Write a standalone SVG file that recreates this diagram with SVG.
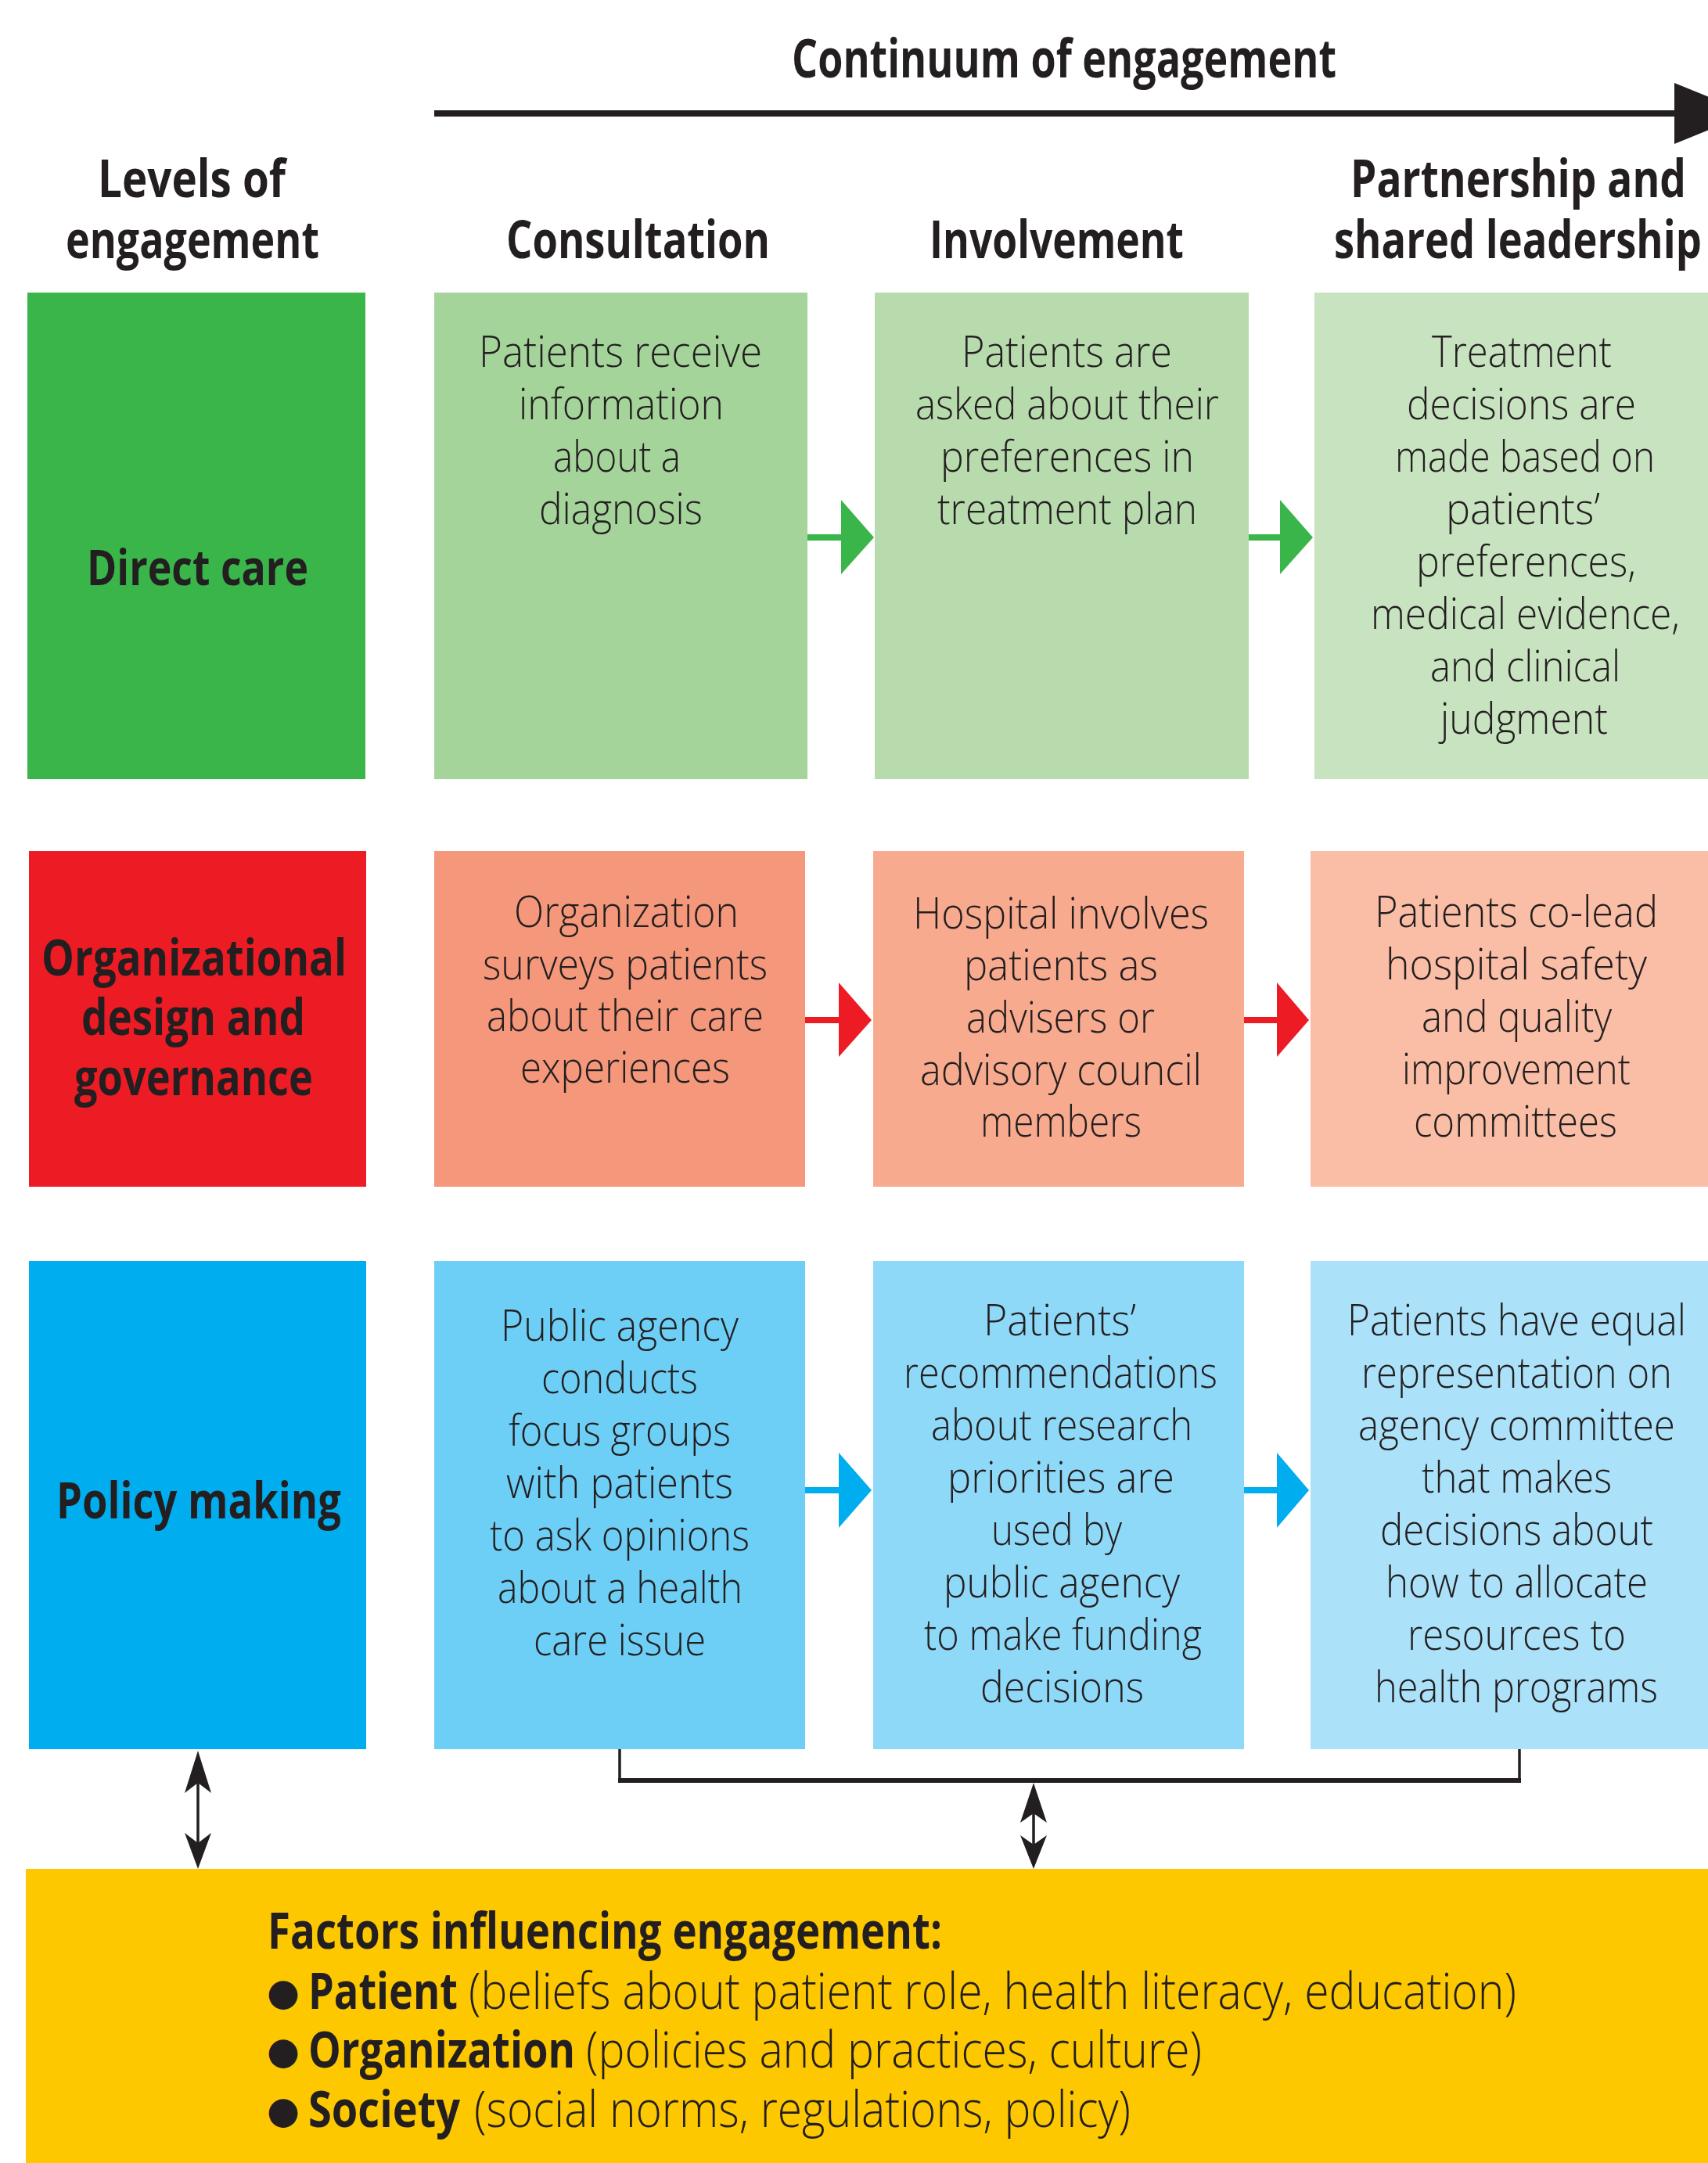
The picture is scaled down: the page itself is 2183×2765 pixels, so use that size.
<svg xmlns="http://www.w3.org/2000/svg" width="2183" height="2765" viewBox="0 0 2183 2765">
<style>
text{font-family:"Open Sans","Noto Sans","Liberation Sans",sans-serif;fill:#231F20}
.h{font-weight:700;font-size:66px}
.lb{font-weight:700;font-size:65px}
.b{font-weight:300;font-size:56px}
.yb{font-weight:700;font-size:64px}
.yt{font-weight:700;font-size:65px}
.yn{font-weight:300;font-size:65px}
.bu{font-family:"DejaVu Sans",sans-serif;font-size:48px}
.ln{stroke:#231F20;fill:none}
</style>
<rect width="2183" height="2765" fill="#ffffff"/>
<g id="headers">
<text class="h" x="1012" y="99" textLength="696" lengthAdjust="spacingAndGlyphs" style="font-size:68px">Continuum of engagement</text>
<text class="h" x="125" y="252" textLength="240" lengthAdjust="spacingAndGlyphs">Levels of</text>
<text class="h" x="84" y="330" textLength="324" lengthAdjust="spacingAndGlyphs">engagement</text>
<text class="h" x="647" y="330" textLength="337" lengthAdjust="spacingAndGlyphs">Consultation</text>
<text class="h" x="1188" y="330" textLength="325" lengthAdjust="spacingAndGlyphs">Involvement</text>
<text class="h" x="1726" y="252" textLength="429" lengthAdjust="spacingAndGlyphs">Partnership and</text>
<text class="h" x="1705" y="330" textLength="470" lengthAdjust="spacingAndGlyphs">shared leadership</text>
</g>
<g id="connectors">
<rect x="555" y="141" width="1587" height="8" fill="#231F20"/>
<polygon points="2140,106 2236,145 2140,184" fill="#231F20"/>
<rect x="1030" y="683" width="47" height="8" fill="#3AB54A"/>
<polygon points="1075,639 1117,687 1075,734" fill="#3AB54A"/>
<rect x="1594" y="683" width="44" height="8" fill="#3AB54A"/>
<polygon points="1636,639 1678,687 1636,734" fill="#3AB54A"/>
<rect x="1027" y="1300" width="47" height="8" fill="#ED1C24"/>
<polygon points="1072,1256 1114,1304 1072,1351" fill="#ED1C24"/>
<rect x="1588" y="1300" width="46" height="8" fill="#ED1C24"/>
<polygon points="1632,1256 1673,1304 1632,1351" fill="#ED1C24"/>
<rect x="1027" y="1901" width="47" height="8" fill="#00AEEF"/>
<polygon points="1072,1857 1114,1905 1072,1953" fill="#00AEEF"/>
<rect x="1588" y="1901" width="46" height="8" fill="#00AEEF"/>
<polygon points="1632,1857 1673,1905 1632,1953" fill="#00AEEF"/>
<path class="ln" d="M792,2234 V2276 M1942,2234 V2276" stroke-width="3.5"/>
<path class="ln" d="M790,2276 H1944" stroke-width="6"/>
<path class="ln" d="M253,2270 V2360" stroke-width="3.5"/>
<polygon points="253,2238 270,2292 253,2279 236,2292" fill="#231F20"/>
<polygon points="253,2389 270,2343 253,2356 236,2343" fill="#231F20"/>
<path class="ln" d="M1321,2310 V2360" stroke-width="3.5"/>
<polygon points="1321,2279 1338,2330 1321,2318 1304,2330" fill="#231F20"/>
<polygon points="1321,2389 1338,2346 1321,2358 1304,2346" fill="#231F20"/>
</g>
<g id="direct-care">
<rect x="35" y="374" width="432" height="622" fill="#3AB54A"/>
<text class="lb" x="111" y="748" textLength="283" lengthAdjust="spacingAndGlyphs" style="font-size:62px">Direct care</text>
</g>
<g id="dc-consultation">
<rect x="555" y="374" width="477" height="622" fill="#A5D49B"/>
<text class="b" x="612" y="469" textLength="362" lengthAdjust="spacingAndGlyphs">Patients receive</text>
<text class="b" x="663" y="536" textLength="262" lengthAdjust="spacingAndGlyphs">information</text>
<text class="b" x="707" y="603" textLength="163" lengthAdjust="spacingAndGlyphs">about a</text>
<text class="b" x="689" y="670" textLength="209" lengthAdjust="spacingAndGlyphs">diagnosis</text>
</g>
<g id="dc-involvement">
<rect x="1118" y="374" width="478" height="622" fill="#B7DBAD"/>
<text class="b" x="1229" y="469" textLength="269" lengthAdjust="spacingAndGlyphs">Patients are</text>
<text class="b" x="1170" y="536" textLength="388" lengthAdjust="spacingAndGlyphs">asked about their</text>
<text class="b" x="1202" y="603" textLength="324" lengthAdjust="spacingAndGlyphs">preferences in</text>
<text class="b" x="1198" y="670" textLength="332" lengthAdjust="spacingAndGlyphs">treatment plan</text>
</g>
<g id="dc-partnership">
<rect x="1680" y="374" width="503" height="622" fill="#C8E3C0"/>
<text class="b" x="1830" y="469" textLength="230" lengthAdjust="spacingAndGlyphs">Treatment</text>
<text class="b" x="1798" y="536" textLength="293" lengthAdjust="spacingAndGlyphs">decisions are</text>
<text class="b" x="1783" y="603" textLength="332" lengthAdjust="spacingAndGlyphs">made based on</text>
<text class="b" x="1848" y="670" textLength="197" lengthAdjust="spacingAndGlyphs">patients’</text>
<text class="b" x="1810" y="737" textLength="281" lengthAdjust="spacingAndGlyphs">preferences,</text>
<text class="b" x="1752" y="804" textLength="395" lengthAdjust="spacingAndGlyphs">medical evidence,</text>
<text class="b" x="1828" y="871" textLength="243" lengthAdjust="spacingAndGlyphs">and clinical</text>
<text class="b" x="1841" y="938" textLength="214" lengthAdjust="spacingAndGlyphs">judgment</text>
</g>
<g id="org-design">
<rect x="37" y="1088" width="431" height="429" fill="#ED1C24"/>
<text class="lb" x="53" y="1247" textLength="390" lengthAdjust="spacingAndGlyphs">Organizational</text>
<text class="lb" x="104" y="1323" textLength="286" lengthAdjust="spacingAndGlyphs">design and</text>
<text class="lb" x="95" y="1400" textLength="305" lengthAdjust="spacingAndGlyphs">governance</text>
</g>
<g id="od-consultation">
<rect x="555" y="1088" width="474" height="429" fill="#F4977A"/>
<text class="b" x="657" y="1185" textLength="287" lengthAdjust="spacingAndGlyphs">Organization</text>
<text class="b" x="617" y="1252" textLength="364" lengthAdjust="spacingAndGlyphs">surveys patients</text>
<text class="b" x="622" y="1318" textLength="354" lengthAdjust="spacingAndGlyphs">about their care</text>
<text class="b" x="665" y="1384" textLength="268" lengthAdjust="spacingAndGlyphs">experiences</text>
</g>
<g id="od-involvement">
<rect x="1116" y="1088" width="474" height="429" fill="#F8AA8F"/>
<text class="b" x="1167" y="1187" textLength="378" lengthAdjust="spacingAndGlyphs">Hospital involves</text>
<text class="b" x="1232" y="1253" textLength="248" lengthAdjust="spacingAndGlyphs">patients as</text>
<text class="b" x="1235" y="1320" textLength="241" lengthAdjust="spacingAndGlyphs">advisers or</text>
<text class="b" x="1176" y="1387" textLength="360" lengthAdjust="spacingAndGlyphs">advisory council</text>
<text class="b" x="1253" y="1453" textLength="206" lengthAdjust="spacingAndGlyphs">members</text>
</g>
<g id="od-partnership">
<rect x="1675" y="1088" width="508" height="429" fill="#FABDA5"/>
<text class="b" x="1757" y="1185" textLength="362" lengthAdjust="spacingAndGlyphs">Patients co-lead</text>
<text class="b" x="1771" y="1252" textLength="334" lengthAdjust="spacingAndGlyphs">hospital safety</text>
<text class="b" x="1817" y="1319" textLength="243" lengthAdjust="spacingAndGlyphs">and quality</text>
<text class="b" x="1792" y="1386" textLength="292" lengthAdjust="spacingAndGlyphs">improvement</text>
<text class="b" x="1807" y="1453" textLength="260" lengthAdjust="spacingAndGlyphs">committees</text>
</g>
<g id="policy-making">
<rect x="37" y="1612" width="431" height="624" fill="#00AEEF"/>
<text class="lb" x="72" y="1941" textLength="364" lengthAdjust="spacingAndGlyphs">Policy making</text>
</g>
<g id="pm-consultation">
<rect x="555" y="1612" width="474" height="624" fill="#6DCFF6"/>
<text class="b" x="640" y="1714" textLength="304" lengthAdjust="spacingAndGlyphs">Public agency</text>
<text class="b" x="692" y="1781" textLength="200" lengthAdjust="spacingAndGlyphs">conducts</text>
<text class="b" x="650" y="1848" textLength="284" lengthAdjust="spacingAndGlyphs">focus groups</text>
<text class="b" x="647" y="1915" textLength="290" lengthAdjust="spacingAndGlyphs">with patients</text>
<text class="b" x="626" y="1982" textLength="332" lengthAdjust="spacingAndGlyphs">to ask opinions</text>
<text class="b" x="636" y="2049" textLength="313" lengthAdjust="spacingAndGlyphs">about a health</text>
<text class="b" x="682" y="2116" textLength="220" lengthAdjust="spacingAndGlyphs">care issue</text>
</g>
<g id="pm-involvement">
<rect x="1116" y="1612" width="474" height="624" fill="#8FD9F8"/>
<text class="b" x="1257" y="1707" textLength="195" lengthAdjust="spacingAndGlyphs">Patients’</text>
<text class="b" x="1155" y="1774" textLength="401" lengthAdjust="spacingAndGlyphs">recommendations</text>
<text class="b" x="1190" y="1841" textLength="334" lengthAdjust="spacingAndGlyphs">about research</text>
<text class="b" x="1211" y="1908" textLength="290" lengthAdjust="spacingAndGlyphs">priorities are</text>
<text class="b" x="1267" y="1975" textLength="167" lengthAdjust="spacingAndGlyphs">used by</text>
<text class="b" x="1206" y="2042" textLength="302" lengthAdjust="spacingAndGlyphs">public agency</text>
<text class="b" x="1181" y="2109" textLength="355" lengthAdjust="spacingAndGlyphs">to make funding</text>
<text class="b" x="1253" y="2176" textLength="209" lengthAdjust="spacingAndGlyphs">decisions</text>
</g>
<g id="pm-partnership">
<rect x="1675" y="1612" width="508" height="624" fill="#ABE2FA"/>
<text class="b" x="1722" y="1707" textLength="433" lengthAdjust="spacingAndGlyphs">Patients have equal</text>
<text class="b" x="1740" y="1774" textLength="397" lengthAdjust="spacingAndGlyphs">representation on</text>
<text class="b" x="1736" y="1841" textLength="405" lengthAdjust="spacingAndGlyphs">agency committee</text>
<text class="b" x="1817" y="1908" textLength="243" lengthAdjust="spacingAndGlyphs">that makes</text>
<text class="b" x="1764" y="1975" textLength="349" lengthAdjust="spacingAndGlyphs">decisions about</text>
<text class="b" x="1771" y="2042" textLength="335" lengthAdjust="spacingAndGlyphs">how to allocate</text>
<text class="b" x="1799" y="2109" textLength="279" lengthAdjust="spacingAndGlyphs">resources to</text>
<text class="b" x="1757" y="2176" textLength="362" lengthAdjust="spacingAndGlyphs">health programs</text>
</g>
<g id="factors">
<rect x="33" y="2389" width="2150" height="376" fill="#FDC800"/>
<text class="yb" x="342" y="2491" textLength="862" lengthAdjust="spacingAndGlyphs">Factors influencing engagement:</text>
<text class="bu" x="341" y="2563">●</text>
<text class="yt" x="394" y="2568" textLength="191" lengthAdjust="spacingAndGlyphs">Patient</text>
<text class="yn" x="599" y="2568" textLength="1339" lengthAdjust="spacingAndGlyphs">(beliefs about patient role, health literacy, education)</text>
<text class="bu" x="341" y="2638">●</text>
<text class="yt" x="394" y="2643" textLength="341" lengthAdjust="spacingAndGlyphs">Organization</text>
<text class="yn" x="749" y="2643" textLength="787" lengthAdjust="spacingAndGlyphs">(policies and practices, culture)</text>
<text class="bu" x="341" y="2714">●</text>
<text class="yt" x="394" y="2719" textLength="194" lengthAdjust="spacingAndGlyphs">Society</text>
<text class="yn" x="606" y="2719" textLength="839" lengthAdjust="spacingAndGlyphs">(social norms, regulations, policy)</text>
</g>
</svg>
